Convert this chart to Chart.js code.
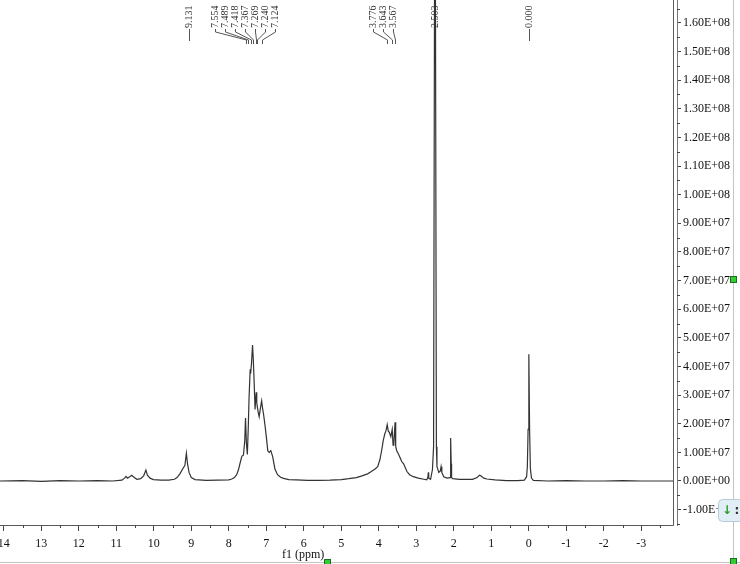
<!DOCTYPE html>
<html><head><meta charset="utf-8">
<script src="https://cdn.jsdelivr.net/npm/chart.js@4"></script>
<style>html,body{margin:0;padding:0;background:#fff;}#wrap{width:740px;height:564px;position:relative;}</style>
</head><body><div id="wrap"><canvas id="c" width="740" height="564"></canvas></div>
<script>
// chemical shift (ppm) and intensity (units of 1e7)
const shifts = [14.1,13.5,13.0,12.5,12.0,11.5,11.1,10.85,10.78,10.74,10.70,10.65,10.59,10.52,10.45,10.35,10.27,10.21,10.17,10.10,10.01,9.8,9.6,9.45,9.38,9.30,9.23,9.17,9.131,9.10,9.06,9.00,8.9,8.6,8.3,8.0,7.92,7.85,7.79,7.74,7.70,7.65,7.61,7.575,7.554,7.53,7.505,7.48,7.46,7.43,7.418,7.395,7.367,7.35,7.325,7.30,7.269,7.255,7.240,7.215,7.19,7.15,7.124,7.10,7.07,7.03,7.00,6.96,6.92,6.88,6.83,6.77,6.70,6.62,6.54,6.4,6.2,5.9,5.6,5.3,5.0,4.8,4.6,4.45,4.30,4.20,4.10,4.03,3.97,3.92,3.88,3.84,3.81,3.776,3.75,3.72,3.68,3.643,3.62,3.60,3.567,3.55,3.52,3.48,3.43,3.39,3.34,3.29,3.25,3.18,3.08,2.95,2.80,2.72,2.69,2.68,2.67,2.62,2.57,2.54,2.515,2.503,2.49,2.465,2.45,2.40,2.36,2.34,2.32,2.27,2.18,2.10,2.09,2.08,2.07,2.06,2.03,1.85,1.5,1.38,1.32,1.28,1.20,1.12,0.9,0.6,0.3,0.12,0.06,0.04,0.02,0.0,-0.02,-0.04,-0.07,-0.12,-0.5,-1.0,-1.5,-2.0,-2.5,-3.0,-3.5,-3.85];
const intensity = [0,0.01,-0.01,0.01,0,0.01,0,0.03,0.1,0.16,0.1,0.14,0.2,0.12,0.06,0.08,0.18,0.38,0.2,0.1,0.05,0.03,0.03,0.06,0.12,0.26,0.42,0.55,0.97,0.6,0.3,0.12,0.05,0.02,0.03,0.04,0.07,0.12,0.22,0.4,0.62,0.87,0.9,1.4,2.2,1.3,0.93,1.9,2.9,3.9,3.75,4.1,4.75,4.35,3.5,2.5,3.1,2.75,2.6,2.4,2.25,2.6,2.8,2.55,2.3,1.9,1.55,1.05,1.0,1.06,0.85,0.42,0.22,0.13,0.09,0.05,0.04,0.02,0.02,0.03,0.05,0.08,0.12,0.18,0.25,0.33,0.42,0.5,0.75,1.1,1.43,1.65,1.75,1.97,1.75,1.7,1.55,1.8,1.25,1.3,2.05,1.2,1.05,0.95,0.8,0.68,0.6,0.45,0.33,0.22,0.15,0.1,0.06,0.04,0.15,0.3,0.1,0.06,0.4,1.2,17,22,17,1.2,0.5,0.3,0.35,0.5,0.3,0.15,0.1,0.12,0.6,1.5,0.6,0.12,0.08,0.06,0.06,0.12,0.2,0.18,0.1,0.07,0.04,0.01,0.01,0.03,0.15,0.5,1.8,4.43,1.8,0.45,0.1,0.02,0,0.01,0,0,0.01,0,0,0];
// peak picking labels (groups share a connector fan)
const labelGroups = [['9.131'],['7.554','7.489','7.418','7.367','7.269','7.240','7.124'],['3.776','3.643','3.567'],['2.503'],['0.000']];
const xTickValues = [14,13,12,11,10,9,8,7,6,5,4,3,2,1,0,-1,-2,-3];
const xTitle = 'f1 (ppm)';

const FONT = '"Liberation Serif", "Times New Roman", serif';

function sci(v){
  v = Math.round(v*1000)/1000;
  if (v === 0) return '0.00E+00';
  const val = v*1e7;
  const e = Math.floor(Math.log10(Math.abs(val)) + 1e-9);
  const m = val/Math.pow(10,e);
  return m.toFixed(2)+'E'+(e<0?'-':'+')+String(Math.abs(e)).padStart(2,'0');
}

const decor = {
  id:'decor',
  afterDatasetsDraw(chart){
    const ctx = chart.ctx, xs = chart.scales.x, ys = chart.scales.y, ca = chart.chartArea;
    ctx.save();
    // frame
    ctx.strokeStyle = '#5a5a5a'; ctx.lineWidth = 1;
    ctx.beginPath();
    ctx.moveTo(0, ca.bottom+0.5); ctx.lineTo(ca.right-4+0.5, ca.bottom+0.5);
    ctx.moveTo(ca.right-4+0.5, ca.top); ctx.lineTo(ca.right-4+0.5, ca.bottom+0.5);
    ctx.stroke();
    // minor ticks x
    ctx.strokeStyle = '#444';
    ctx.beginPath();
    for (let v = Math.ceil(xs.min*2)/2; v <= xs.max; v += 0.5){
      if (Math.abs(v - Math.round(v)) < 1e-6) continue;
      const px = Math.round(xs.getPixelForValue(v))+0.5;
      ctx.moveTo(px, ca.bottom); ctx.lineTo(px, ca.bottom+3);
    }
    // minor ticks y
    for (let v = Math.ceil(ys.min*2)/2; v <= ys.max; v += 0.5){
      if (Math.abs(v - Math.round(v)) < 1e-6) continue;
      const py = Math.round(ys.getPixelForValue(v))+0.5;
      ctx.moveTo(ca.right, py); ctx.lineTo(ca.right+3, py);
    }
    ctx.stroke();

    // peak labels
    ctx.font = '10px ' + FONT;
    ctx.fillStyle = '#333'; ctx.strokeStyle = '#555';
    ctx.textBaseline = 'middle'; ctx.textAlign = 'left';
    const textBottom = 28;
    labelGroups.forEach(g => {
      const peaks = g.map(s => xs.getPixelForValue(parseFloat(s)));
      let xsLab;
      if (g.length === 1) xsLab = [peaks[0] + (g[0] === '9.131' ? 3 : 0)];
      else {
        const mean = peaks.reduce((a,b)=>a+b,0)/peaks.length - 8;
        xsLab = g.map((s,i)=> mean + (i - (g.length-1)/2)*10);
      }
      g.forEach((s,i) => {
        const lx = Math.round(xsLab[i]);
        ctx.save();
        ctx.translate(lx, textBottom);
        ctx.rotate(-Math.PI/2);
        ctx.fillText(s, 0, 0);
        ctx.restore();
        ctx.beginPath();
        if (g.length === 1){
          if (s !== '2.503'){ ctx.moveTo(lx+0.5, textBottom+1); ctx.lineTo(lx+0.5, textBottom+13); }
        } else {
          const px = Math.round(peaks[i])+0.5;
          ctx.moveTo(lx+0.5, textBottom+1); ctx.lineTo(lx+0.5, textBottom+4);
          ctx.lineTo(px, textBottom+12); ctx.lineTo(px, textBottom+16);
        }
        ctx.stroke();
      });
    });

    // axis title
    ctx.font = '12px ' + FONT; ctx.fillStyle = '#111';
    ctx.textAlign = 'center'; ctx.textBaseline = 'middle';
    ctx.fillText(xTitle, xs.getPixelForValue(6.02), 555);
    ctx.restore();
  },
  afterDraw(chart){
    const ctx = chart.ctx;
    ctx.save();
    // window edges
    ctx.strokeStyle = '#c4c4c4'; ctx.lineWidth = 1;
    ctx.beginPath(); ctx.moveTo(733.5,0); ctx.lineTo(733.5,564); ctx.moveTo(0,562.5); ctx.lineTo(740,562.5); ctx.stroke();
    // handle button
    ctx.fillStyle = '#e1eef5'; ctx.strokeStyle = '#b3cbd9';
    ctx.beginPath();
    if (ctx.roundRect) ctx.roundRect(718.5,499.5,24,22,4); else ctx.rect(718.5,499.5,24,22);
    ctx.fill(); ctx.stroke();
    ctx.fillStyle = '#2c9a2c'; ctx.font = 'bold 12px "DejaVu Sans", sans-serif';
    ctx.textAlign='center'; ctx.textBaseline='middle';
    ctx.fillText('\u2193', 727, 511);
    ctx.fillStyle = '#333'; ctx.fillText(':', 737, 511);
    // green handles
    ctx.fillStyle = '#33cc33'; ctx.strokeStyle = '#1d6b1d';
    [[324,559],[730,276],[730,558]].forEach(p => { ctx.fillRect(p[0],p[1],7,7); ctx.strokeRect(p[0]+0.5,p[1]+0.5,6,6); });
    ctx.restore();
  }
};

new Chart(document.getElementById('c'), {
  type:'line',
  data:{ datasets:[{
    data: shifts.map((x,i)=>({x:x, y:intensity[i]})),
    borderColor:'#333333', borderWidth:1.2, pointRadius:0, tension:0, fill:false
  }]},
  options:{
    responsive:false, animation:false, devicePixelRatio:1,
    layout:{padding:0},
    plugins:{legend:{display:false}, tooltip:{enabled:false}},
    scales:{
      x:{
        type:'linear', reverse:true, min:-3.95, max:14.1,
        afterBuildTicks(s){ s.ticks = xTickValues.map(v=>({value:v})); },
        ticks:{ autoSkip:false, maxRotation:0, padding:6, color:'#111', font:{family:FONT, size:12}, callback:v=>String(v) },
        grid:{ drawOnChartArea:false, drawTicks:true, tickLength:6, color:'#444' },
        border:{ display:false },
        afterFit(s){ s.height = 39; s.paddingLeft = 0; s.paddingRight = 0; }
      },
      y:{
        type:'linear', position:'right', min:-1.537, max:16.8,
        ticks:{ stepSize:1, includeBounds:false, padding:2, color:'#111', font:{family:FONT, size:12}, callback:v=>sci(v) },
        grid:{ drawOnChartArea:false, drawTicks:true, tickLength:4, color:'#444' },
        border:{ display:true, color:'#777' },
        afterFit(s){ s.width = 63; s.paddingTop = 0; s.paddingBottom = 0; }
      }
    }
  },
  plugins:[decor]
});
</script></body></html>
